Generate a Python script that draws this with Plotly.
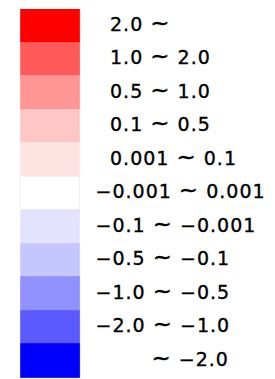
import plotly.graph_objects as go

# Legend classes (top to bottom)
labels = [
    "2.0 ~",
    "1.0 ~ 2.0",
    "0.5 ~ 1.0",
    "0.1 ~ 0.5",
    "0.001 ~ 0.1",
    "−0.001 ~ 0.001",
    "−0.1 ~ −0.001",
    "−0.5 ~ −0.1",
    "−1.0 ~ −0.5",
    "−2.0 ~ −1.0",
    "~ −2.0",
]
colors = [
    "#FF0000",
    "#FF5A5A",
    "#FF9696",
    "#FFC6C6",
    "#FFE3E3",
    "#FFFFFF",
    "#E3E3FF",
    "#C6C6FF",
    "#9090FF",
    "#5A5AFF",
    "#0000FF",
]
swatch_width = [1] * len(labels)

W, H = 275, 379
SW_LEFT, SW_RIGHT = 21, 79.5
TOP, BOTTOM = 9, 378


def fmt(t):
    t = t.replace("~", '<span style="font-size:23px">~</span>')
    return ('<span style="letter-spacing:1.0px;stroke:#000;stroke-width:0.35px">'
            + t + "</span>")


def label_x(t):
    if t.startswith("~"):
        return 151.5
    if t.startswith("−"):
        return 95.5
    return 110


def edge(c):
    return "#EEEEEE" if c.upper() == "#FFFFFF" else c


fig = go.Figure()
fig.add_trace(go.Bar(
    y=labels,
    x=[v * (SW_RIGHT - SW_LEFT) for v in swatch_width],
    base=SW_LEFT,
    orientation="h",
    marker=dict(color=colors, line=dict(width=0.8, color=[edge(c) for c in colors])),
    hoverinfo="skip",
    showlegend=False,
))
fig.add_trace(go.Scatter(
    y=labels,
    x=[label_x(t) for t in labels],
    mode="text",
    text=[fmt(t) for t in labels],
    textposition="middle right",
    textfont=dict(family="DejaVu Sans", size=19, color="#000000"),
    hoverinfo="skip",
    showlegend=False,
    cliponaxis=False,
))

fig.update_layout(
    width=W, height=H,
    margin=dict(l=0, r=0, t=0, b=0),
    paper_bgcolor="white", plot_bgcolor="white",
    bargap=0,
    xaxis=dict(range=[0, W], visible=False, fixedrange=True),
    yaxis=dict(
        type="category",
        categoryorder="array", categoryarray=labels,
        range=[len(labels) - 0.5, -0.5],
        domain=[(H - BOTTOM) / H, (H - TOP) / H],
        visible=False, fixedrange=True,
    ),
)
fig.write_html(
    "out.html",
    config={"displayModeBar": False},
    post_script="document.body.style.margin='0';document.body.style.overflow='hidden';",
)
